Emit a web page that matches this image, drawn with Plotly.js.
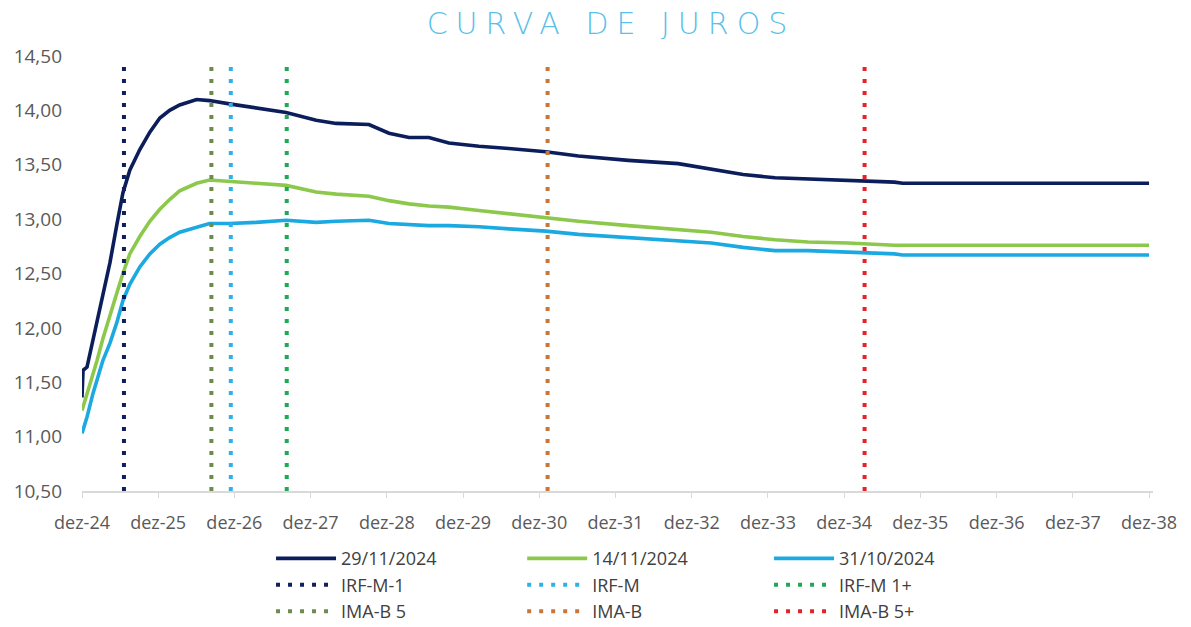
<!DOCTYPE html>
<html>
<head>
<meta charset="utf-8">
<script src="https://cdn.plot.ly/plotly-3.0.1.min.js"></script>
<style>html,body{margin:0;padding:0;background:#fff;}#chart{width:1191px;height:627px;}
#chart .gtitle{letter-spacing:8px;}</style>
</head>
<body>
<div id="chart"></div>
<script>
// Curve dates (x)
const dates = ['2024-12-01','2024-12-06','2024-12-25','2025-01-23','2025-02-11','2025-03-11','2025-04-14','2025-05-17','2025-06-15','2025-07-18','2025-09-04','2025-10-22','2025-12-09','2026-01-25','2026-03-14','2026-06-03','2026-08-04','2026-11-07','2027-03-16','2027-08-06','2027-12-28','2028-04-02','2028-09-06','2028-12-11','2029-03-17','2029-06-20','2029-09-24','2030-02-15','2030-07-08','2031-01-01','2031-06-07','2032-02-01','2032-09-27','2033-03-04','2033-08-04','2034-01-04','2034-06-10','2034-12-18','2035-07-30','2035-09-07','2036-12-05','2038-12-01'];
// Series
const curve29Nov = [11.36,11.61,11.64,11.89,12.04,12.28,12.60,12.95,13.24,13.45,13.64,13.80,13.93,14.00,14.05,14.10,14.09,14.06,14.02,13.98,13.91,13.88,13.87,13.79,13.75,13.75,13.70,13.67,13.65,13.62,13.58,13.54,13.51,13.46,13.41,13.38,13.37,13.35,13.34,13.33,13.33,13.33];
const curve14Nov = [11.24,11.27,11.40,11.56,11.70,11.90,12.10,12.32,12.50,12.68,12.84,12.98,13.09,13.18,13.26,13.33,13.36,13.35,13.33,13.31,13.25,13.23,13.21,13.17,13.14,13.12,13.11,13.08,13.05,13.01,12.98,12.94,12.90,12.88,12.84,12.81,12.79,12.78,12.76,12.76,12.76,12.76];
const curve31Oct = [11.03,11.06,11.18,11.40,11.52,11.70,11.86,12.05,12.25,12.40,12.56,12.68,12.77,12.83,12.88,12.93,12.96,12.96,12.97,12.99,12.97,12.98,12.99,12.96,12.95,12.94,12.94,12.93,12.91,12.89,12.86,12.83,12.80,12.78,12.74,12.71,12.71,12.70,12.68,12.67,12.67,12.67];
const curveNames = ['29/11/2024','14/11/2024','31/10/2024'];
// Index durations (vertical markers)
const indexNames = ['IRF-M-1','IRF-M','IRF-M 1+','IMA-B 5','IMA-B','IMA-B 5+'];
const indexDates = ['2025-06-20','2026-11-14','2027-08-09','2026-08-13','2031-01-10','2035-03-09'];
const markerLow = 10.5, markerHigh = 14.45;
// Axis ticks
const tickDates = ['2024-12-01','2025-12-01','2026-12-01','2027-12-01','2028-12-01','2029-12-01','2030-12-01','2031-12-01','2032-12-01','2033-12-01','2034-12-01','2035-12-01','2036-12-01','2037-12-01','2038-12-01'];
const tickLabels = ['dez-24','dez-25','dez-26','dez-27','dez-28','dez-29','dez-30','dez-31','dez-32','dez-33','dez-34','dez-35','dez-36','dez-37','dez-38'];
const yTicks = [10.5,11,11.5,12,12.5,13,13.5,14,14.5];

const curveColors = ['#0c1d5b','#8cc84b','#1aa9e1'];
const indexColors = ['#0f1f5c','#2db1e6','#1fa855','#6e8b4e','#c8773a','#e52228'];
const curveLegend = ['legend','legend2','legend3'];
const indexLegend = ['legend','legend2','legend3','legend','legend2','legend3'];

const traces = [];
[curve29Nov, curve14Nov, curve31Oct].forEach((ys, i) => {
  traces.push({x: dates, y: ys, type: 'scatter', mode: 'lines', name: curveNames[i],
    line: {color: curveColors[i], width: 3.6}, legend: curveLegend[i], hoverinfo: 'skip'});
});
indexNames.forEach((n, i) => {
  traces.push({x: [indexDates[i], indexDates[i]], y: [markerLow, markerHigh], type: 'scatter', mode: 'lines', name: n,
    line: {color: indexColors[i], width: 4, dash: '4px,8px'}, legend: indexLegend[i], hoverinfo: 'skip'});
});

const legFont = {family: 'Open Sans, sans-serif', size: 18, color: '#404040'};
const legCommon = {orientation: 'v', xanchor: 'left', yanchor: 'top', font: legFont, tracegroupgap: 0,
  bgcolor: 'rgba(0,0,0,0)', itemwidth: 60, maxheight: 1};

const layout = {
  width: 1191, height: 627,
  margin: {l: 82, r: 38, t: 56, b: 136, autoexpand: false},
  paper_bgcolor: '#fff', plot_bgcolor: '#fff',
  separators: ',.',
  title: {text: 'CURVA DE JUROS', x: 0.513, xanchor: 'center', y: 0.962, yanchor: 'middle',
    font: {family: 'DejaVu Sans, sans-serif', size: 30, color: '#5bbfe9', weight: 200}},
  showlegend: true,
  legend: Object.assign({x: 0.1765, y: -0.113}, legCommon),
  legend2: Object.assign({x: 0.411, y: -0.113}, legCommon),
  legend3: Object.assign({x: 0.6415, y: -0.113}, legCommon),
  xaxis: {type: 'date', range: ['2024-12-01', '2038-12-20'], tickmode: 'array', tickvals: tickDates, ticktext: tickLabels,
    showgrid: false, zeroline: false, showline: true, linecolor: '#d9d9d9', linewidth: 1.5,
    ticks: 'outside', ticklen: 5, tickcolor: '#d9d9d9', ticklabelstandoff: 10,
    tickfont: {family: 'Open Sans, sans-serif', size: 18, color: '#595959'}},
  yaxis: {range: [10.5, 14.5], tickmode: 'array', tickvals: yTicks, tickformat: '.2f',
    showgrid: false, zeroline: false, showline: false, ticks: '', ticklabelstandoff: 19,
    tickfont: {family: 'Open Sans, sans-serif', size: 19, color: '#595959'}}
};

Plotly.newPlot('chart', traces, layout, {staticPlot: true});
</script>
</body>
</html>
